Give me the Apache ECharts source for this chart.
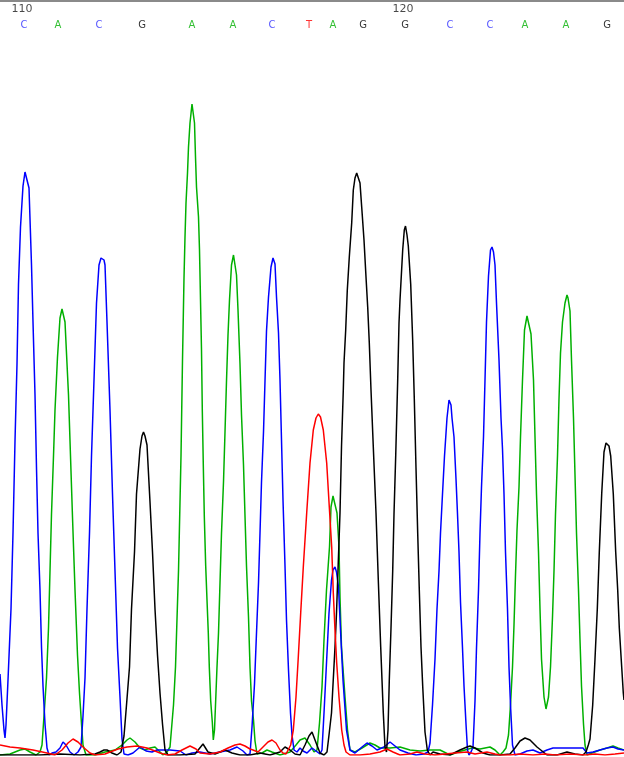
<!DOCTYPE html>
<html>
<head>
<meta charset="utf-8">
<script src="https://cdn.jsdelivr.net/npm/echarts@6/dist/echarts.min.js"></script>
<style>
html,body{margin:0;padding:0;background:#fff;}
#chart{width:624px;height:757px;}
</style>
</head>
<body>
<div id="chart"></div>
<script>
// Base calls and their scan positions
const bases = ['C','A','C','G','A','A','C','T','A','G','G','C','C','A','A','G'];
const basePos = [24,58,99,142,192,233,272,309,333,363,405,450,490,525,566,607];
const firstBaseNumber = 110;
const tickEvery = 10;

// Trace intensities [scan, signal]
const traceC = [[0,81],[2,50],[4,25],[5,17],[6,30],[8,75],[11,146],[13,222],[15,314],[17,391],[18.5,471],[20.5,528],[23,569],[25,583],[26,585],[27,581],[29,567],[31.5,490],[33,433],[35,360],[36.5,287],[38,222],[40,165],[41.5,108],[43,69],[45,31],[47,7],[49,0],[52,2],[56,3],[60,7],[63,13],[66,10],[70,3],[74,0],[78,3],[81,8],[83,39],[85,77],[87,146],[89.5,222],[91.5,299],[94,375],[96.5,452],[99,490],[101,497],[102.5,498],[104,495],[105,490],[107,433],[110,345],[112.5,261],[115,184],[117.5,107],[120,58],[122,16],[124,1],[128,0],[133,2],[140,8],[146,4],[152,3],[157,5],[163,5],[170,5],[180,4],[186,0],[192,2],[200,3],[210,1],[220,3],[230,5],[237,8],[243,4],[247,0],[250,1],[252,28],[254.5,71],[256.5,122],[258.5,172],[260,222],[261.5,273],[263.5,323],[265,374],[266.5,424],[268.5,458],[271,488],[273,497],[275,491],[276.5,458],[278.5,422],[280,375],[281.5,315],[283,255],[285,189],[286.5,135],[288.5,85],[290.5,42],[292,20],[294,5],[297,3],[300,7],[303,4],[307,2],[312,7],[316,4],[320,1],[322,5],[324,42],[326.5,92],[329,142],[331.5,175],[333,185],[335,188],[336.5,183],[338.5,168],[340.5,125],[343,75],[346.5,25],[350,5],[355,2],[362,8],[367,12],[372,9],[377,5],[384,8],[390,13],[395,9],[400,5],[408,2],[416,0],[424,1],[428,3],[430,12],[432.5,50],[435,96],[437,146],[439,184],[440.5,222],[442.5,261],[444.5,299],[447,337],[449,355],[451,350],[452,337],[454,318],[456,276],[457.5,241],[459,203],[460.5,153],[462.5,107],[464,69],[466,31],[467.5,5],[469,0],[471,3],[473,8],[475,54],[476.5,107],[478.5,165],[480,222],[481.5,268],[483.5,318],[485,375],[486.5,433],[488.5,479],[490.5,505],[492,508],[493.5,503],[495,490],[496.5,452],[499,395],[501,337],[502.5,306],[504,261],[505.5,203],[507.5,146],[509,88],[510.5,50],[512.5,10],[515,0],[520,1],[527,4],[533,5],[540,2],[547,5],[553,7],[565,7],[575,7],[583,7],[587,2],[593,3],[600,5],[607,7],[613,8],[618,6],[624,5]];

const traceA = [[0,0],[10,1],[20,5],[25,6],[30,3],[36,0],[40,3],[42,10],[44,39],[46.5,77],[48.5,127],[50,184],[51.5,241],[53.5,299],[55,345],[57.5,398],[60,437],[62,446],[63,445],[65,433],[68.5,360],[70.5,299],[72.5,238],[75,165],[77.5,100],[79.5,62],[81.5,31],[83,10],[86,0],[95,0],[105,3],[115,5],[122,10],[127,15],[130,17],[135,13],[140,7],[145,5],[150,7],[155,8],[160,3],[163,0],[167,3],[170,8],[173.5,50],[175.5,88],[178.5,184],[181,299],[182.5,395],[184,477],[185,518],[186,552],[187.5,582],[188.5,608],[190,632],[192,651],[193,649],[194.5,632],[195.5,598],[196.5,568],[198.5,538],[199.5,505],[200.5,455],[201.5,405],[202.3,345],[203.3,290],[204.3,239],[205.7,189],[207,155],[208.3,122],[209.3,88],[210.7,54],[212.3,33],[213.3,15],[214.5,25],[215.5,50],[217,88],[218.5,122],[220,172],[221.5,222],[223.5,273],[225,323],[226.5,374],[228,420],[229.5,455],[231.5,490],[233.5,500],[235,498],[236.5,480],[238,445],[240,391],[241.5,340],[243.5,290],[245,239],[246.5,189],[248.5,138],[250,88],[251.5,54],[253.5,35],[255,14],[257,1],[262,2],[267,5],[272,3],[280,0],[290,3],[296,10],[300,15],[305,17],[310,10],[314,3],[317,5],[319.5,32],[322,68],[324,115],[326.5,165],[329.5,208],[331,248],[333,259],[335,260],[337,242],[339,208],[340,158],[341.5,108],[345,58],[347.5,25],[350,5],[355,3],[362,7],[370,12],[375,10],[380,7],[390,7],[400,8],[410,5],[420,4],[430,5],[440,5],[450,0],[458,3],[465,5],[472,7],[480,6],[490,8],[495,5],[500,0],[503,3],[506,7],[508.5,20],[510.5,50],[512.5,88],[514,130],[515.5,180],[517,225],[519,268],[520.5,318],[522.5,375],[524.5,425],[527,439],[528,440],[531,421],[533.5,375],[535,318],[536.5,261],[538.5,203],[540,146],[541.5,96],[544,58],[546,46],[548.5,58],[550.5,88],[552.5,138],[554,184],[555.5,241],[557.5,299],[559,356],[560.5,402],[562.5,433],[565,452],[567,460],[568,457],[570,444],[571.5,395],[573.5,337],[575,280],[576.5,222],[578.5,165],[580,115],[581.5,69],[583.5,31],[585,10],[587,0],[592,2],[600,5],[607,7],[613,9],[618,7],[624,5]];

const traceG = [[0,0],[20,0],[40,0],[60,1],[80,0],[95,1],[100,3],[104,5],[107,5],[112,2],[117,0],[121,3],[124,19],[126.5,50],[129.5,88],[131.5,146],[134.5,203],[136.5,261],[140,306],[142,319],[143.5,323],[145,319],[147,310],[150,253],[152.5,203],[155,146],[157.5,100],[160,62],[162.5,31],[165,5],[168,0],[180,0],[195,1],[203,11],[208,3],[215,1],[225,5],[232,2],[240,0],[250,0],[260,2],[270,0],[280,3],[285,8],[290,5],[295,1],[300,0],[305,10],[309,19],[312,23],[315,15],[320,2],[324,0],[327,3],[329,20],[331.5,42],[335,108],[336.5,142],[340,242],[341.5,308],[343.3,365],[344,392],[345.7,425],[347.3,465],[349.3,498],[351.7,532],[353.3,565],[355,577],[356.7,582],[358,580],[360,572],[361.7,548],[364,515],[366,478],[367.7,448],[369.3,412],[371,365],[373.3,308],[376,242],[378.3,175],[380.7,108],[383.3,42],[385,8],[386.5,3],[388,25],[389.3,75],[391,127],[392.7,184],[394,241],[395.7,299],[397.7,375],[399,432],[400,455],[402.7,505],[404.3,525],[405.5,529],[407,520],[408.3,509],[410.7,471],[412.7,414],[414.3,356],[416,287],[417.7,222],[419.3,165],[421,108],[422.7,69],[425,23],[427.3,5],[430,0],[433,3],[440,1],[450,0],[460,5],[467,8],[470,9],[475,7],[483,2],[490,0],[500,0],[510,1],[515,7],[520,14],[525,17],[530,15],[537,8],[547,0],[557,0],[567,3],[575,1],[583,0],[586,3],[588.3,10],[590,16],[592.7,50],[595,96],[597.3,146],[599.3,203],[601.7,261],[604,303],[606,312],[607.3,314],[609,309],[610.7,299],[613.3,261],[615.7,203],[617.7,165],[619.3,127],[621.7,88],[623.3,62],[624,55]];

const traceT = [[0,10],[10,8],[20,7],[33,5],[47,2],[55,0],[62,5],[68,12],[73,16],[78,13],[83,8],[90,2],[95,0],[105,1],[110,3],[118,6],[127,8],[137,9],[147,7],[155,4],[160,2],[167,0],[175,1],[182,5],[190,9],[196,6],[200,2],[210,1],[220,3],[228,7],[235,10],[240,11],[245,9],[250,6],[253,5],[258,3],[264,9],[268,13],[272,15],[276,12],[280,5],[283,2],[286,1],[288,3],[290.7,10],[293.3,25],[296,58],[298.3,98],[300.7,142],[303.3,188],[306.7,242],[310,292],[313.3,325],[316,337],[318.3,341],[320.5,338],[323.3,325],[326.7,292],[329.3,248],[331.7,208],[333.3,162],[335,125],[336.7,92],[339,58],[341.7,25],[344,10],[346,3],[350,0],[360,0],[370,1],[380,3],[387,6],[393,3],[400,0],[410,1],[417,3],[425,1],[435,0],[445,1],[455,2],[467,3],[475,1],[487,3],[495,1],[500,0],[510,0],[520,1],[533,0],[545,1],[555,0],[570,1],[585,0],[595,1],[605,0],[615,1],[624,2]];

const baseColors = {A:'#00b000', C:'#2a2aff', G:'#000000', T:'#ff0000'};
const traceColors = {A:'#00b000', C:'#0000ff', G:'#000000', T:'#ff0000'};

const Y_MAX = 755;
const LETTER_ROW = 730;
const NUMBER_ROW = 745.5;

const letterData = bases.map((b,i)=>({
  value:[basePos[i], LETTER_ROW, b],
  label:{color: baseColors[b]}
}));
const numberData = [];
bases.forEach((b,i)=>{
  const n = firstBaseNumber + i;
  if (n % tickEvery === 0) numberData.push({value:[basePos[i], NUMBER_ROW, String(n)]});
});

function traceSeries(name, data){
  return {
    type:'line', name, data, symbol:'none', smooth:false,
    lineStyle:{color:traceColors[name], width:1.5},
    itemStyle:{color:traceColors[name]},
    animation:false, silent:true, z:2
  };
}

const chart = echarts.init(document.getElementById('chart'), null, {renderer:'canvas'});
chart.setOption({
  backgroundColor:'#ffffff',
  animation:false,
  grid:{left:0, right:0, top:0, bottom:2, containLabel:false},
  xAxis:{
    type:'value', min:0, max:624, position:'top',
    axisLine:{show:true, onZero:false, lineStyle:{color:'#8a8a8a', width:4}},
    axisTick:{show:false}, axisLabel:{show:false}, splitLine:{show:false}
  },
  yAxis:{
    type:'value', min:0, max:Y_MAX,
    axisLine:{show:false}, axisTick:{show:false}, axisLabel:{show:false}, splitLine:{show:false}
  },
  series:[
    traceSeries('A', traceA),
    traceSeries('C', traceC),
    traceSeries('G', traceG),
    traceSeries('T', traceT),
    {
      type:'scatter', data:letterData, symbolSize:0, silent:true, z:5,
      label:{show:true, position:'inside', formatter:p=>p.value[2],
        fontFamily:'DejaVu Sans', fontSize:10}
    },
    {
      type:'scatter', data:numberData, symbolSize:0, silent:true, z:5,
      label:{show:true, position:'inside', offset:[-2,0], formatter:p=>p.value[2],
        fontFamily:'DejaVu Sans', fontSize:11, color:'#1a1a1a'}
    }
  ]
});
</script>
</body>
</html>
